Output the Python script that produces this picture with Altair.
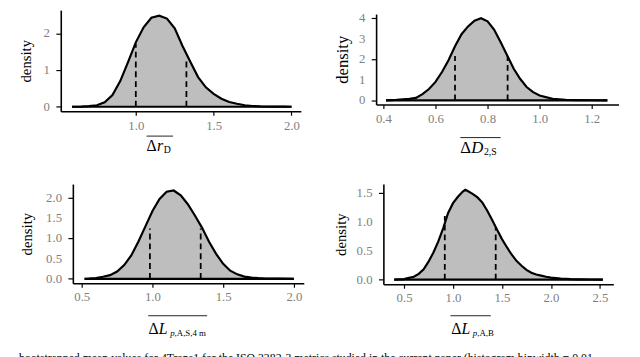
import altair as alt
import pandas as pd

FONT = "Liberation Serif"
FILL = "#bebebe"
LABEL_GREY = "#808080"

# ---------------- data ----------------
p1_x = [0.59, 0.65, 0.70, 0.75, 0.80, 0.85, 0.90, 0.95, 1.00, 1.05, 1.10, 1.15, 1.20, 1.25,
        1.30, 1.35, 1.40, 1.45, 1.50, 1.55, 1.60, 1.65, 1.70, 1.75, 1.80, 1.85, 1.90, 1.95, 2.00]
p1_d = [0.0, 0.005, 0.015, 0.04, 0.12, 0.32, 0.70, 1.22, 1.76, 2.17, 2.43, 2.49, 2.41, 2.14,
        1.66, 1.23, 0.81, 0.53, 0.35, 0.22, 0.13, 0.08, 0.04, 0.02, 0.01, 0.005, 0.002, 0.001, 0.0]
p1_dash_x = [1.00, 1.325]
p1_dash_top = [1.72, 1.31]
p1_yticks = [0, 1, 2]
p1_ylabels = ["0", "1", "2"]

p2_x = [0.41, 0.45, 0.50, 0.525, 0.55, 0.575, 0.60, 0.625, 0.65, 0.675, 0.70, 0.725, 0.75, 0.775,
        0.80, 0.825, 0.85, 0.875, 0.90, 0.925, 0.95, 0.975, 1.00, 1.05, 1.10, 1.15, 1.20, 1.26]
p2_d = [0.0, 0.02, 0.07, 0.12, 0.30, 0.55, 0.90, 1.38, 1.95, 2.63, 3.22, 3.60, 3.88, 4.00,
        3.85, 3.45, 2.84, 2.20, 1.55, 1.05, 0.65, 0.40, 0.24, 0.07, 0.025, 0.01, 0.004, 0.0]
p2_dash_x = [0.675, 0.877]
p2_dash_top = [2.16, 2.16]
p2_yticks = [0, 1, 2, 3, 4]
p2_ylabels = ["0", "1", "2", "3", "4"]

p3_x = [0.52, 0.55, 0.60, 0.65, 0.70, 0.75, 0.80, 0.85, 0.90, 0.95, 1.00, 1.05, 1.10, 1.15, 1.20,
        1.25, 1.30, 1.35, 1.40, 1.45, 1.50, 1.55, 1.60, 1.65, 1.70, 1.75, 1.80, 1.90, 2.00]
p3_d = [0.0, 0.005, 0.02, 0.05, 0.09, 0.18, 0.34, 0.58, 0.92, 1.30, 1.68, 1.98, 2.16, 2.19, 2.07,
        1.85, 1.57, 1.27, 0.92, 0.62, 0.37, 0.20, 0.11, 0.055, 0.03, 0.015, 0.008, 0.003, 0.0]
p3_dash_x = [0.982, 1.341]
p3_dash_top = [1.25, 1.25]
p3_yticks = [0, 0.5, 1.0, 1.5, 2.0]
p3_ylabels = ["0.0", "0.5", "1.0", "1.5", "2.0"]

p4_x = [0.40, 0.50, 0.55, 0.60, 0.65, 0.70, 0.75, 0.80, 0.85, 0.90, 0.95, 1.00, 1.05, 1.10, 1.125,
        1.15, 1.20, 1.25, 1.30, 1.35, 1.40, 1.45, 1.50, 1.55, 1.60, 1.65, 1.70, 1.75, 1.80, 1.85,
        1.90, 1.95, 2.00, 2.10, 2.20, 2.30, 2.40, 2.53]
p4_d = [0.0, 0.01, 0.03, 0.05, 0.10, 0.18, 0.31, 0.47, 0.66, 0.89, 1.15, 1.32, 1.43, 1.52, 1.55,
        1.53, 1.48, 1.42, 1.33, 1.19, 1.03, 0.86, 0.70, 0.56, 0.43, 0.32, 0.24, 0.17, 0.12, 0.09,
        0.07, 0.05, 0.035, 0.02, 0.01, 0.005, 0.002, 0.0]
p4_dash_x = [0.916, 1.436]
p4_dash_top = [1.10, 0.90]
p4_yticks = [0, 0.5, 1.0, 1.5]
p4_ylabels = ["0.0", "0.5", "1.0", "1.5"]

caption = ("bootstrapped mean values for 4Trans1 for the ISO 3382-3 metrics studied in the "
           "current paper (histogram binwidth = 0.01,")


def text_part(txt, x, y, size, style="normal"):
    return alt.Chart(pd.DataFrame({"t": [txt]})).mark_text(
        align="left", baseline="alphabetic", font=FONT, fontSize=size,
        fontStyle=style, color="black"
    ).encode(x=alt.value(x), y=alt.value(y), text="t:N")


def panel(xs, ds, dash_x, dash_top, xdom, ydom, xticks, yticks, ylabels, w, h,
          parts, over, ytsize, tpad, lead=0, ylead=0):
    df = pd.DataFrame({"x": xs, "d": ds, "z": [0] * len(xs)})
    xscale = alt.Scale(domain=xdom, nice=False, zero=False, range=[-lead, w])
    yscale = alt.Scale(domain=ydom, nice=False, zero=False, range=[h, -ylead])
    xenc = alt.X("x:Q", scale=xscale, axis=alt.Axis(values=xticks, format=".1f", title=None))
    yenc = alt.Y("d:Q", scale=yscale,
                 axis=alt.Axis(values=yticks, labels=False, title="density",
                               titleFontSize=ytsize, titlePadding=tpad, offset=lead))
    area = alt.Chart(df).mark_area(color=FILL, opacity=1).encode(x=xenc, y=yenc, y2="z:Q")
    line = alt.Chart(df).mark_line(color="black", strokeWidth=2.2).encode(x="x:Q", y="d:Q")
    base = alt.Chart(pd.DataFrame({"x": [xs[0]], "x2": [xs[-1]], "z": [0]})).mark_rule(
        color="black", strokeWidth=2.2).encode(x="x:Q", x2="x2:Q", y="z:Q")
    dash = alt.Chart(pd.DataFrame({"x": dash_x, "top": dash_top, "z": [0, 0]})).mark_rule(
        color="black", strokeWidth=1.8, strokeDash=[6, 4]).encode(x="x:Q", y="z:Q", y2="top:Q")
    ylab = alt.Chart(pd.DataFrame({"d": yticks, "lab": ylabels})).mark_text(
        align="right", baseline="middle", font=FONT, fontSize=13, color=LABEL_GREY
    ).encode(y="d:Q", text="lab:N", x=alt.value(-(lead + 11)))
    texts = [text_part(*p) for p in parts]
    ol = alt.Chart(pd.DataFrame({"a": [0]})).mark_rule(color="#222", strokeWidth=1).encode(
        x=alt.value(over[0]), x2=alt.value(over[1]), y=alt.value(over[2]))
    return alt.layer(area, line, base, dash, ylab, *texts, ol).properties(width=w, height=h)


c1 = panel(p1_x, p1_d, p1_dash_x, p1_dash_top, [0.518, 2.06], [-0.126, 2.64],
           [1.0, 1.5, 2.0], p1_yticks, p1_ylabels, 232, 99,
           [("Δ", 75, 139.5, 16), ("r", 85.5, 139.5, 16, "italic"), ("D", 92.5, 141.5, 10)],
           (75, 102, 124.2), 15, 22, lead=12.3, ylead=4)
c2 = panel(p2_x, p2_d, p2_dash_x, p2_dash_top, [0.372, 1.303], [-0.2, 4.2],
           [0.4, 0.6, 0.8, 1.0, 1.2], p2_yticks, p2_ylabels, 233.3, 92,
           [("Δ", 72.3, 141, 17), ("D", 83.3, 141, 17, "italic"), ("2,S", 96.3, 143.5, 10)],
           (72.3, 113.3, 125.7), 17, 20, lead=13.4)
c3 = panel(p3_x, p3_d, p3_dash_x, p3_dash_top, [0.437, 2.07], [-0.112, 2.35],
           [0.5, 1.0, 1.5, 2.0], p3_yticks, p3_ylabels, 235, 101,
           [("Δ", 77, 152.5, 16), ("L", 87.5, 152.5, 16, "italic"), ("p", 99, 155, 9, "italic"),
            (",A,S,4 m", 103.5, 155, 9)],
           (76.7, 136.7, 134), 15, 33)
c4 = panel(p4_x, p4_d, p4_dash_x, p4_dash_top, [0.289, 2.637], [-0.08, 1.65],
           [0.5, 1.0, 1.5, 2.0, 2.5], p4_yticks, p4_ylabels, 234, 102,
           [("Δ", 69, 152.5, 16), ("L", 79.5, 152.5, 16, "italic"), ("p", 91, 155, 9, "italic"),
            (",A,B", 95.5, 155, 9)],
           (68.3, 109.3, 134), 15, 30)

chart = alt.concat(
    c1, c2, c3, c4, columns=2, align="none",
    spacing={"row": 27, "column": 20},
).properties(
    title=alt.TitleParams(text=caption, orient="bottom", anchor="start", font=FONT,
                          fontSize=12, fontWeight="normal", color="black", offset=15),
    padding={"left": 11, "top": 0, "right": 0, "bottom": 0},
).configure_axis(
    domainColor="black", domainWidth=1.6, tickColor="black", tickWidth=1.2,
    labelColor=LABEL_GREY, labelFont=FONT, labelFontSize=13, grid=False,
    titleFont=FONT, titleFontWeight="normal", titleColor="black",
).configure_axisX(labelPadding=4, tickSize=4).configure_axisY(tickSize=5).configure_view(
    strokeWidth=0
)

chart.save("out.html", embed_options={"renderer": "svg", "actions": False})
